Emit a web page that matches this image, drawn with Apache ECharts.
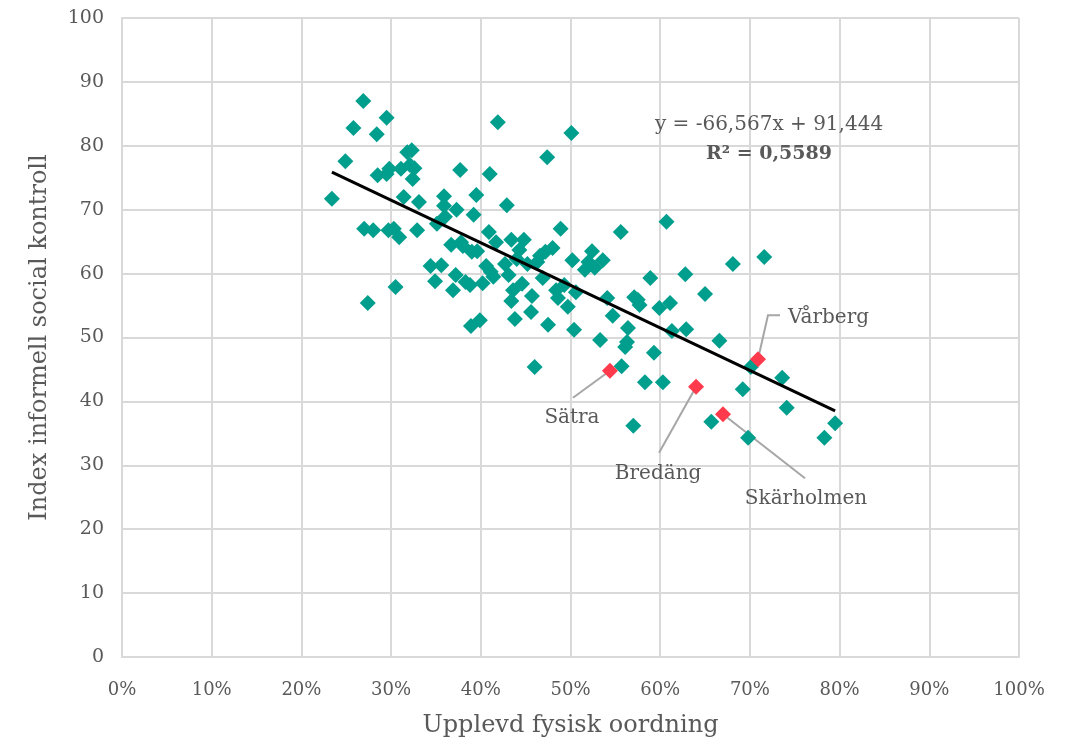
<!DOCTYPE html>
<html>
<head>
<meta charset="utf-8">
<script src="https://cdn.jsdelivr.net/npm/echarts@6/dist/echarts.min.js"></script>
<style>
html,body{margin:0;padding:0;background:#fff;}
#chart{width:1073px;height:741px;}
</style>
</head>
<body>
<div id="chart"></div>
<script>
// Data
var xTicks = [0, 0.1, 0.2, 0.3, 0.4, 0.5, 0.6, 0.7, 0.8, 0.9, 1.0];
var yTicks = [0, 10, 20, 30, 40, 50, 60, 70, 80, 90, 100];
var areaX = [0.234,0.249,0.258,0.269,0.270,0.274,0.280,0.284,0.285,0.295,0.295,0.297,0.298,0.303,0.305,0.309,0.311,0.314,0.318,0.321,0.323,0.324,0.326,0.329,0.331,0.344,0.349,0.351,0.356,0.359,0.359,0.360,0.367,0.369,0.372,0.373,0.377,0.378,0.380,0.383,0.388,0.389,0.390,0.392,0.395,0.396,0.399,0.402,0.406,0.409,0.410,0.411,0.414,0.417,0.419,0.427,0.429,0.431,0.434,0.434,0.436,0.438,0.440,0.443,0.446,0.448,0.452,0.456,0.457,0.460,0.463,0.466,0.469,0.472,0.474,0.475,0.480,0.484,0.486,0.489,0.493,0.497,0.501,0.502,0.504,0.506,0.516,0.520,0.524,0.527,0.533,0.536,0.541,0.547,0.556,0.557,0.561,0.563,0.564,0.570,0.571,0.575,0.577,0.583,0.589,0.593,0.599,0.603,0.607,0.611,0.613,0.628,0.629,0.650,0.657,0.666,0.681,0.692,0.698,0.701,0.716,0.736,0.741,0.783,0.795];
var areaY = [71.7,77.6,82.8,87.0,67.0,55.4,66.8,81.8,75.4,84.4,75.6,66.8,76.4,67.0,57.9,65.7,76.4,72.0,79.0,77.0,79.3,74.8,76.5,66.8,71.2,61.2,58.8,67.8,61.3,72.1,70.6,68.9,64.5,57.4,59.8,70.0,76.2,64.9,64.3,58.7,58.2,51.8,63.4,69.2,72.3,63.5,52.7,58.5,61.2,66.5,75.6,60.3,59.5,64.9,83.7,61.5,70.7,59.8,65.3,55.7,57.4,52.9,62.3,63.7,58.4,65.3,61.5,54.0,56.5,45.4,61.8,62.8,59.3,63.4,78.2,52.0,64.0,57.4,56.2,67.0,58.2,54.8,82.0,62.1,51.2,57.1,60.6,61.8,63.5,60.9,49.6,62.1,56.2,53.4,66.5,45.5,48.5,49.3,51.5,36.2,56.3,55.9,55.1,43.0,59.3,47.6,54.6,43.0,68.1,55.4,51.0,59.9,51.3,56.8,36.8,49.5,61.5,41.9,34.3,45.4,62.6,43.7,39.0,34.3,36.6];
var hlNames = ["Sätra", "Bredäng", "Skärholmen", "Vårberg"];
var hlX = [0.544, 0.640, 0.670, 0.709];
var hlY = [44.8, 42.3, 38.0, 46.6];
var slope = -66.567, intercept = 91.444, r2 = "0,5589";
var eqText = "y = -66,567x + 91,444";
var xTitle = "Upplevd fysisk oordning";
var yTitle = "Index informell social kontroll";

var FONT = "DejaVu Serif";
var TXT = "#595959";

var pts = areaX.map(function (x, i) { return [x, areaY[i]]; });
var hlPts = hlX.map(function (x, i) { return [x, hlY[i]]; });
var minX = Math.min.apply(null, areaX.concat(hlX));
var maxX = Math.max.apply(null, areaX.concat(hlX));
var trend = [[minX, slope * minX + intercept], [maxX, slope * maxX + intercept]];

var chart = echarts.init(document.getElementById('chart'), null, {renderer: 'canvas'});
var option = {
  animation: false,
  backgroundColor: '#ffffff',
  textStyle: {fontFamily: FONT, color: TXT},
  grid: {left: 122, right: 54, top: 18, bottom: 84, containLabel: false, outerBoundsMode: 'none'},
  xAxis: {
    type: 'value', min: 0, max: 1, interval: 0.1,
    name: xTitle, nameLocation: 'middle', nameGap: 57,
    nameTextStyle: {fontFamily: FONT, fontSize: 24, color: TXT},
    axisLine: {show: true, lineStyle: {color: '#d9d9d9', width: 2}},
    axisTick: {show: false},
    axisLabel: {fontFamily: FONT, fontSize: 18, color: TXT, margin: 24,
      formatter: function (v) { return Math.round(v * 100) + '%'; }},
    splitLine: {show: true, lineStyle: {color: '#d9d9d9', width: 2}}
  },
  yAxis: {
    type: 'value', min: 0, max: 100, interval: 10,
    name: yTitle, nameLocation: 'middle', nameGap: 70,
    nameTextStyle: {fontFamily: FONT, fontSize: 24, color: TXT},
    axisLine: {show: true, lineStyle: {color: '#d9d9d9', width: 2}},
    axisTick: {show: false},
    axisLabel: {fontFamily: FONT, fontSize: 19, color: TXT, margin: 18},
    splitLine: {show: true, lineStyle: {color: '#d9d9d9', width: 2}}
  },
  series: [
    {type: 'scatter', data: pts, symbol: 'diamond', symbolSize: 16,
     itemStyle: {color: '#009E8C', opacity: 1}, z: 2},
    {type: 'scatter', data: hlPts, symbol: 'diamond', symbolSize: 16,
     itemStyle: {color: '#FF3A4C', opacity: 1}, z: 3},
    {type: 'line', data: trend, symbol: 'none', lineStyle: {color: '#000', width: 3}, z: 4}
  ]
};
chart.setOption(option);

// Leader lines and labels (pixel offsets from each point)
var offsets = [
  {bend: [-37, 27], text: [-38, 47], align: 'center'},
  {bend: [-37, 66], text: [-38, 87], align: 'center'},
  {bend: [82, 64], text: [83, 85], align: 'center'},
  {bend: [10, -44], elbow: [22, -44], text: [30, -41], align: 'left'}
];
var graphics = [];
hlPts.forEach(function (p, i) {
  var c = chart.convertToPixel({seriesIndex: 1}, p);
  var o = offsets[i];
  var linePts = [[c[0], c[1]], [c[0] + o.bend[0], c[1] + o.bend[1]]];
  if (o.elbow) linePts.push([c[0] + o.elbow[0], c[1] + o.elbow[1]]);
  graphics.push({type: 'polyline', shape: {points: linePts}, z: 1,
    style: {stroke: '#a6a6a6', lineWidth: 2, fill: null}});
  graphics.push({type: 'text', x: c[0] + o.text[0], y: c[1] + o.text[1], z: 5,
    style: {text: hlNames[i], fontFamily: FONT, fontSize: 20, fill: TXT,
      align: o.align, verticalAlign: 'middle'}});
});
graphics.push({type: 'text', x: 769, y: 125, z: 5,
  style: {text: eqText, fontFamily: FONT, fontSize: 20, fill: TXT, align: 'center', verticalAlign: 'middle'}});
graphics.push({type: 'text', x: 769, y: 154, z: 5,
  style: {text: 'R² = ' + r2, fontFamily: FONT, fontSize: 19, fontWeight: 'bold', fill: TXT, align: 'center', verticalAlign: 'middle'}});
chart.setOption({graphic: graphics});
</script>
</body>
</html>
